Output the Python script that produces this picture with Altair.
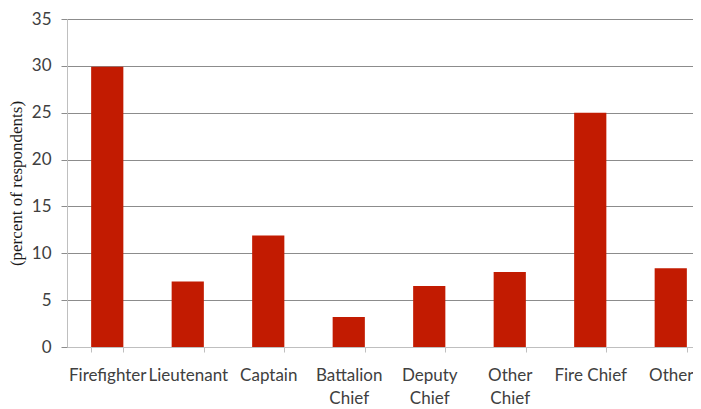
import altair as alt
import pandas as pd

categories = ["Firefighter", "Lieutenant", "Captain", "Battalion Chief",
              "Deputy Chief", "Other Chief", "Fire Chief", "Other"]
values = [29.9, 7.0, 11.9, 3.2, 6.5, 8.0, 25.0, 8.4]
wrapped = ["Battalion Chief", "Deputy Chief", "Other Chief"]
y_ticks = [0, 5, 10, 15, 20, 25, 30, 35]

df = pd.DataFrame({"role": categories, "pct": values})

cond = " || ".join(f"datum.label == '{w}'" for w in wrapped)
label_expr = f"({cond}) ? split(datum.label, ' ') : datum.label"

chart = alt.Chart(df).mark_bar(color="#C21B01").encode(
    x=alt.X("role:N", sort=categories,
            scale=alt.Scale(paddingInner=0.6, paddingOuter=0.3, range=[0, 644]),
            axis=alt.Axis(title=None, labelAngle=0, labelExpr=label_expr,
                          tickBand="extent", tickSize=5, tickColor="#BFBFBF",
                          domainColor="#BFBFBF", labelFont="Lato", labelFontSize=17,
                          labelColor="#404040", labelPadding=15, labelLineHeight=23,
                          labelBaseline="top", grid=False)),
    y=alt.Y("pct:Q", scale=alt.Scale(domain=[0, 35], nice=False),
            axis=alt.Axis(title="(percent of respondents)", values=y_ticks,
                          titleFont="Liberation Serif", titleFontSize=17,
                          titleFontWeight="normal", titleColor="#1a1a1a",
                          titlePadding=6,
                          labelFont="Lato", labelFontSize=17, labelColor="#404040",
                          labelPadding=10, tickSize=6, tickColor="#8C8C8C",
                          gridColor="#8C8C8C", domainColor="#BFBFBF")),
).properties(
    width=626, height=328,
    autosize=alt.AutoSizeParams(type="none"),
    padding={"left": 59, "top": 11, "right": 0, "bottom": 62},
).configure_view(stroke=None)

chart.save("out.html", embed_options={"renderer": "svg", "actions": False})
